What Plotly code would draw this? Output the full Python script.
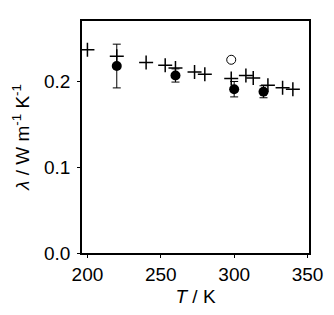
import plotly.graph_objects as go

# Crosses (+) series
T_cross = [200, 220, 240, 253, 260, 273, 280, 298, 308, 313, 323, 333, 340]
lam_cross = [0.237, 0.2295, 0.222, 0.2188, 0.2157, 0.211, 0.2084, 0.2034, 0.207, 0.204, 0.1957, 0.1926, 0.191]

# Filled circles with error bars
T_fill = [220, 260, 300, 320]
lam_fill = [0.218, 0.207, 0.191, 0.188]
err_fill = [0.0255, 0.0077, 0.009, 0.007]

# Open circle
T_open = [298]
lam_open = [0.2253]

x_ticks = [200, 250, 300, 350]
y_ticks = [0.0, 0.1, 0.2]

FONT = "Liberation Sans, Arial, sans-serif"

fig = go.Figure()
fig.add_trace(go.Scatter(
    x=T_cross, y=lam_cross, mode="markers",
    marker=dict(symbol="cross-thin", size=10, color="black",
                line=dict(color="black", width=1.5)),
    showlegend=False))
fig.add_trace(go.Scatter(
    x=T_fill, y=lam_fill, mode="markers",
    marker=dict(symbol="circle", size=10, color="black"),
    error_y=dict(type="data", array=err_fill, visible=True,
                 color="black", thickness=1, width=4),
    showlegend=False))
fig.add_trace(go.Scatter(
    x=T_open, y=lam_open, mode="markers",
    marker=dict(symbol="circle-open", size=9, color="black",
                line=dict(color="black", width=1)),
    showlegend=False))

# page body has an 8px default margin; size the figure so the plot lands in place
fig.update_layout(
    width=326, height=307,
    margin=dict(l=74, r=19, t=11, b=62),
    paper_bgcolor="white", plot_bgcolor="white",
    font=dict(family=FONT, size=19, color="black"),
    xaxis=dict(range=[196.3, 351], tickvals=x_ticks,
               showline=True, linecolor="black", linewidth=1.5, mirror=True,
               ticks="outside", ticklen=3, tickcolor="black", tickwidth=1,
               showgrid=False, zeroline=False,
               tickfont=dict(size=19),
               title=dict(text="<i>T</i> / K", font=dict(size=19), standoff=6)),
    yaxis=dict(range=[0, 0.2705], tickvals=y_ticks, tickformat=".1f",
               showline=True, linecolor="black", linewidth=1.5, mirror=True,
               ticks="outside", ticklen=3, tickcolor="black", tickwidth=1,
               showgrid=False, zeroline=False, ticklabelstandoff=3,
               tickfont=dict(size=19),
               title=dict(text="<i>λ</i> / W m<sup>-1</sup> K<sup>-1</sup>",
                          font=dict(size=19), standoff=9)),
)

fig.write_html("out.html")
